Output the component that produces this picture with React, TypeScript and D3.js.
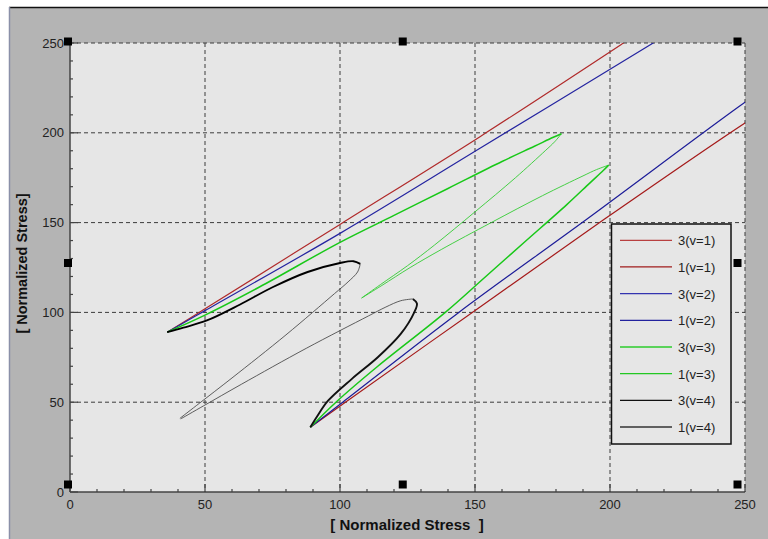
import React from "react";
import * as d3 from "d3";

type P = [number, number];

// ---- data (normalized stress, x vs y) ----
const xTicks = [0, 50, 100, 150, 200, 250];
const yTicks = [0, 50, 100, 150, 200, 250];
const legendLabels = ["3(v=1)", "1(v=1)", "3(v=2)", "1(v=2)", "3(v=3)", "1(v=3)", "3(v=4)", "1(v=4)"];
const legendColors = ["#b84040", "#a01c1c", "#3434b0", "#22229e", "#2ccc2c", "#22c822", "#111111", "#606060"];

const v1s3Load: P[] = [[36, 89], [50, 102], [100, 149], [152, 198], [205, 250], [215, 260]];
const v1s1Load: P[] = [[89, 36], [102, 50], [149, 100], [198, 152], [250, 205.5], [260, 215]];

const v2s3Load: P[] = [[36, 89], [50, 101], [100, 144], [152, 191.5], [216, 250], [226, 259]];
const v2s1Load: P[] = [[89, 36], [101, 50], [144, 100], [191.5, 152], [250, 217], [259, 226]];

const v3s3Load: P[] = [[36, 89], [50, 98.5], [70, 114], [100, 139], [120, 154], [140, 169], [160, 184], [172, 192.5], [179, 197.5], [182, 199.5]];
const v3s3Unload: P[] = [[182, 199.5], [179.5, 195], [176, 190], [165, 175], [150, 156], [135, 137.5], [125, 126], [115, 115.5], [108, 108]];
const v3s1Load: P[] = [[89, 36], [98.5, 50], [114, 70], [139, 100], [154, 120], [169, 140], [184, 160], [192.5, 172], [197.5, 179], [199.5, 182]];
const v3s1Unload: P[] = [[199.5, 182], [195, 179.5], [190, 176], [175, 165], [156, 150], [137.5, 135], [126, 125], [115.5, 115], [108, 108]];

const v4s3Load: P[] = [[36, 89], [42, 91.5], [50.7, 95.5], [63, 104.4], [75, 114], [88, 122.5], [100, 127.5], [105, 128.5], [107.5, 127]];
const v4s3Unload: P[] = [[107.5, 127], [106.5, 122.5], [103, 117], [98, 110.5], [80, 87.5], [60, 63.5], [48, 49.5], [40.7, 41]];
const v4s1Load: P[] = [[89, 36], [91.5, 42], [95.5, 50.7], [104.4, 63], [114, 75], [122.5, 88], [127.5, 100], [128.5, 105], [127, 107.5]];
const v4s1Unload: P[] = [[127, 107.5], [122.5, 106.5], [117, 103], [110.5, 98], [87.5, 80], [63.5, 60], [49.5, 48], [41, 40.7]];

const W = 768;
const H = 539;
const L = 70, R = 745, T = 43, B = 492;

export default function App() {
  const x = d3.scaleLinear().domain([0, 250]).range([L, R]);
  const y = d3.scaleLinear().domain([0, 250]).range([B, T]);
  const line = d3
    .line<P>()
    .x((d) => x(d[0]))
    .y((d) => y(d[1]))
    .curve(d3.curveCatmullRom.alpha(0.5));

  const minorX = d3.range(0, 251, 10);
  const minorY = d3.range(0, 251, 10);

  const series: { d: P[]; c: string; w: number }[] = [
    { d: v1s3Load, c: "#b02a2a", w: 1.2 },
    { d: v1s1Load, c: "#a51a1a", w: 1.2 },
    { d: v2s3Load, c: "#2424a0", w: 1.2 },
    { d: v2s1Load, c: "#1c1c98", w: 1.2 },
    { d: v3s3Unload, c: "#33cc33", w: 0.9 },
    { d: v3s1Unload, c: "#33cc33", w: 0.9 },
    { d: v3s3Load, c: "#18c818", w: 1.5 },
    { d: v3s1Load, c: "#18c818", w: 1.5 },
    { d: v4s3Unload, c: "#3a3a3a", w: 0.8 },
    { d: v4s1Unload, c: "#3a3a3a", w: 0.8 },
    { d: v4s3Load, c: "#000000", w: 1.9 },
    { d: v4s1Load, c: "#111111", w: 1.9 },
  ];

  const hx = [L - 2, (L - 2 + R - 7.5) / 2, R - 7.5];
  const hy = [T - 1.5, (T - 1.5 + B - 7.5) / 2, B - 7.5];
  const handles: P[] = [];
  hx.forEach((a, i) =>
    hy.forEach((b, j) => {
      if (!(i === 1 && j === 1)) handles.push([a, b]);
    })
  );

  const font = "Arial, 'Liberation Sans', sans-serif";
  const legX = 611.5, legY = 224, legW = 119.5, legH = 220;
  const rowH = 26.67;

  return (
    <svg width={W} height={H} style={{ position: "absolute", left: 0, top: 0 }} fontFamily={font}>
      <rect x={0} y={0} width={W} height={H} fill="#ffffff" />
      <rect x={9.5} y={7.5} width={W} height={H} fill="#b4b4b4" />
      <line x1={9} y1={7.5} x2={W} y2={7.5} stroke="#111" strokeWidth={1.5} />
      <line x1={9.5} y1={7} x2={9.5} y2={H} stroke="#8a90a8" strokeWidth={1.5} />

      <defs>
        <clipPath id="plotclip">
          <rect x={L} y={T} width={R - L} height={B - T} />
        </clipPath>
      </defs>

      <rect x={L} y={T} width={R - L} height={B - T} fill="#e6e6e6" />

      {/* grid */}
      {xTicks.slice(1).map((t) => (
        <line key={"gx" + t} x1={x(t)} x2={x(t)} y1={T} y2={B} stroke="#3c3c3c" strokeWidth={1} strokeDasharray="4,3" />
      ))}
      {yTicks.slice(1).map((t) => (
        <line key={"gy" + t} x1={L} x2={R} y1={y(t)} y2={y(t)} stroke="#3c3c3c" strokeWidth={1} strokeDasharray="4,3" />
      ))}

      {/* axes */}
      <line x1={L} x2={L} y1={T} y2={B} stroke="#444" strokeWidth={1.5} />
      <line x1={L} x2={R} y1={B} y2={B} stroke="#444" strokeWidth={1.5} />
      {minorX.map((t) => (
        <line key={"mx" + t} x1={x(t)} x2={x(t)} y1={B} y2={B - (t % 50 === 0 ? 8 : 3)} stroke="#444" strokeWidth={1.2} />
      ))}
      {minorY.map((t) => (
        <line key={"my" + t} y1={y(t)} y2={y(t)} x1={L} x2={L + (t % 50 === 0 ? 8 : 3)} stroke="#444" strokeWidth={1.2} />
      ))}

      {/* tick labels */}
      {yTicks.map((t) => (
        <text key={"ly" + t} x={L - 6} y={y(t) + 4.5} textAnchor="end" fontSize={13} fill="#222">
          {t}
        </text>
      ))}
      {xTicks.map((t) => (
        <text key={"lx" + t} x={x(t)} y={B + 17} textAnchor="middle" fontSize={13} fill="#222">
          {t}
        </text>
      ))}

      {/* axis titles */}
      <text x={407} y={530} textAnchor="middle" fontSize={15} fontWeight="bold" fill="#111" xmlSpace="preserve">
        {"[ Normalized Stress  ]"}
      </text>
      <text
        transform={`translate(27,${(T + B) / 2 - 4}) rotate(-90)`}
        textAnchor="middle"
        fontSize={14.5}
        fontWeight="bold"
        fill="#111"
      >
        [ Normalized Stress]
      </text>

      {/* data */}
      <g clipPath="url(#plotclip)">
        {series.map((s, i) => (
          <path key={"s" + i} d={line(s.d) || ""} fill="none" stroke={s.c} strokeWidth={s.w} strokeLinejoin="round" />
        ))}
      </g>

      {/* legend */}
      <rect x={legX} y={legY} width={legW} height={legH} fill="#e6e6e6" stroke="#111" strokeWidth={1.5} />
      {legendLabels.map((lab, i) => {
        const yy = legY + 16.3 + i * rowH;
        return (
          <g key={lab + i}>
            <line x1={620} x2={672} y1={yy} y2={yy} stroke={legendColors[i]} strokeWidth={i === 7 ? 1.8 : 1.3} />
            <text x={678} y={yy + 5} fontSize={13} fill="#222">
              {lab}
            </text>
          </g>
        );
      })}

      {/* selection handles */}
      {handles.map((h, i) => (
        <rect key={"h" + i} x={h[0] - 4} y={h[1] - 4} width={8} height={8} fill="#000" />
      ))}
    </svg>
  );
}
